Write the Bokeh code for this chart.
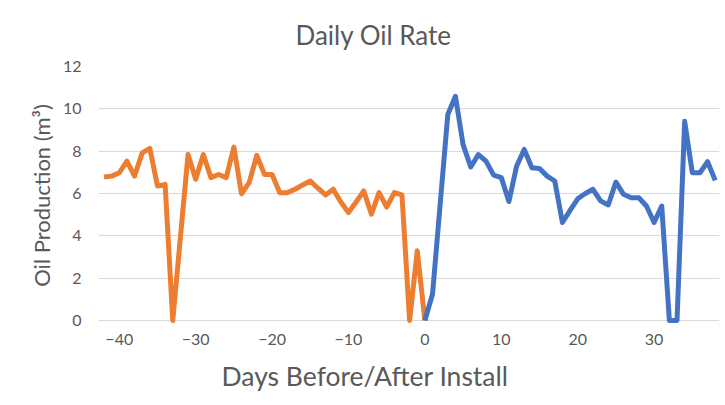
from bokeh.plotting import figure
from bokeh.models import FixedTicker, Range1d, Title
from bokeh.embed import file_html
from bokeh.resources import INLINE

# ---- data ----
before_days = [-42, -41, -40, -39, -38, -37, -36, -35, -34, -33, -31, -30, -29, -28, -27, -26,
               -25, -24, -23, -22, -21, -20, -19, -18, -17, -16, -15, -14, -13, -12, -11, -10,
               -9, -8, -7, -6, -5, -4, -3, -2, -1, 0]
before_oil = [6.78, 6.82, 6.98, 7.53, 6.82, 7.92, 8.13, 6.35, 6.43, 0.0, 7.84, 6.67, 7.84, 6.75, 6.9, 6.75,
              8.19, 5.99, 6.51, 7.8, 6.9, 6.9, 6.04, 6.04, 6.2, 6.4, 6.59, 6.25, 5.93, 6.2, 5.6, 5.1,
              5.6, 6.12, 5.02, 6.04, 5.36, 6.04, 5.93, 0.0, 3.29, 0.0]

after_days = [0, 1, 3, 4, 5, 6, 7, 8, 9, 10, 11, 12, 13, 14, 15, 16, 17, 18, 19, 20, 21, 22,
              23, 24, 25, 26, 27, 28, 29, 30, 31, 32, 33, 34, 35, 36, 37, 38]
after_oil = [0.0, 1.25, 9.73, 10.59, 8.31, 7.25, 7.84, 7.53, 6.87, 6.75, 5.62, 7.29, 8.08, 7.22, 7.18, 6.82,
             6.59, 4.63, 5.2, 5.75, 6.0, 6.2, 5.65, 5.46, 6.54, 5.96, 5.8, 5.8, 5.41, 4.63, 5.41, 0.0,
             0.0, 9.41, 6.98, 6.98, 7.5, 6.62]

x_ticks = [-40, -30, -20, -10, 0, 10, 20, 30]
y_ticks = [0, 2, 4, 6, 8, 10, 12]

title_text = "Daily Oil Rate"
x_label = "Days Before/After Install"
y_label = "Oil Production (m\u00b3)"

FONT = "Lato"
GREY = "#595959"

p = figure(width=725, height=405, output_backend="svg", toolbar_location=None,
           x_range=Range1d(-42.72, 38.56), y_range=Range1d(-0.19, 12.0),
           min_border_left=98, min_border_right=6, min_border_top=65, min_border_bottom=81)
p.outline_line_color = None
p.background_fill_color = "white"
p.border_fill_color = "white"

p.xaxis.ticker = FixedTicker(ticks=x_ticks)
p.yaxis.ticker = FixedTicker(ticks=y_ticks)
for ax in (p.xaxis, p.yaxis):
    ax.axis_line_color = None
    ax.major_tick_line_color = None
    ax.minor_tick_line_color = None
    ax.major_tick_out = 0
    ax.major_label_text_font = FONT
    ax.major_label_text_font_size = "16px"
    ax.major_label_text_color = GREY
p.xaxis.major_label_standoff = 9
p.yaxis.major_label_standoff = 17

p.xgrid.grid_line_color = None
p.ygrid.grid_line_color = "#D9D9D9"
p.ygrid.grid_line_width = 1

p.line(before_days, before_oil, line_color="#ED7D31", line_width=5, line_join="round")
p.line(after_days, after_oil, line_color="#4472C4", line_width=5, line_join="round")

p.add_layout(Title(text=title_text, align="left", offset=197, standoff=32,
                   text_font=FONT, text_font_size="26px", text_color=GREY,
                   text_font_style="normal"), "above")
p.add_layout(Title(text=x_label, align="left", offset=123, standoff=21,
                   text_font=FONT, text_font_size="26.5px", text_color=GREY,
                   text_font_style="normal"), "below")
p.add_layout(Title(text=y_label, align="center", offset=16, standoff=9,
                   text_font=FONT, text_font_size="22px", text_color=GREY,
                   text_font_style="normal"), "left")

open("out.html", "w").write(file_html(p, INLINE))
